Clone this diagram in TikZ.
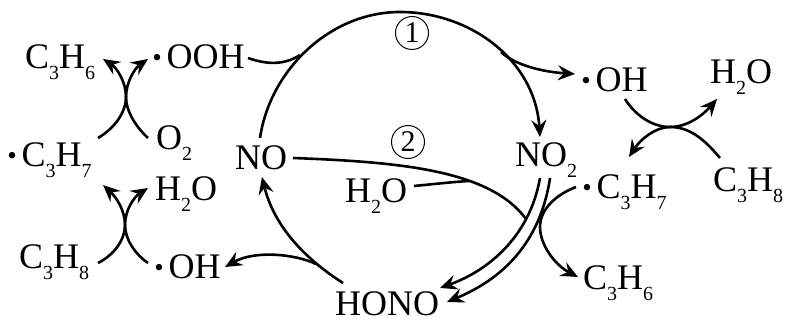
\documentclass[tikz,border=0pt]{standalone}
\usepackage{fontspec}
\setmainfont{Liberation Serif}
\usetikzlibrary{arrows.meta}
\newcommand\sbs[1]{\raisebox{-11pt}{\fontsize{20}{20}\selectfont #1}}
\newcommand\rad{\kern-4.75pt\raisebox{-7pt}{\fontsize{54}{54}\selectfont ·}\kern0.25pt}
\tikzset{
 chem/.style={anchor=base west,inner sep=0pt,font=\fontsize{36}{40}\selectfont},
 num/.style={circle,draw,line width=1pt,minimum size=33pt,inner sep=0pt,font=\fontsize{30}{32}\selectfont},
 link/.style={line width=2.6pt,line cap=butt},
 rx/.style={link,-{Stealth[length=17pt,width=15pt,inset=6pt]}}
}
\begin{document}
\begin{tikzpicture}[x=1pt,y=-1pt]
\useasboundingbox (0,0) rectangle (785,320);
\node[chem] (c3h6L) at (25,69) {C\sbs{3}H\sbs{6}};
\node[chem] (oohL) at (153,69) {\rad OOH};
\node[chem] (c3h7L) at (8,167) {\rad C\sbs{3}H\sbs{7}};
\node[chem] (o2L) at (156,150) {O\sbs{2}};
\node[chem] (h2oL) at (155,201) {H\sbs{2}O};
\node[chem] (c3h8L) at (19,269) {C\sbs{3}H\sbs{8}};
\node[chem] (ohL) at (155,279) {\rad OH};
\node[chem] (no) at (235,170) {NO};
\node[chem] (no2) at (515,167) {NO\sbs{2}};
\node[chem] (h2oM) at (345,203) {H\sbs{2}O};
\node[chem] (hono) at (335,316) {HONO};
\node[chem] (ohR) at (582,92) {\rad OH};
\node[chem] (h2oR) at (710,84) {H\sbs{2}O};
\node[chem] (c3h7R) at (583,199) {\rad C\sbs{3}H\sbs{7}};
\node[chem] (c3h8R) at (713,192) {C\sbs{3}H\sbs{8}};
\node[chem] (c3h6B) at (583,290) {C\sbs{3}H\sbs{6}};
\node[num] (one) at (412,33) {1};
\node[num] (two) at (408,142) {2};
\coordinate (top) at (400,12);
\coordinate (jOOH) at (300,55);
\coordinate (jOH) at (501,52);
\coordinate (jOHb) at (316,264);
\coordinate (jHO) at (469,181);
\coordinate (xTL) at (126,97);
\coordinate (xBL) at (125,225);
\coordinate (xR) at (670,127);
\coordinate (xB) at (540,227);
\coordinate (jDbl) at (526,219);
% main cycle
\draw[rx] ([shift={(25,-32)}]no.base west) .. controls (270,70) and (330,12) .. (top)
  .. controls (470,12) and (535,60) .. ([shift={(25,-30)}]no2.base west);
\draw[link] ([shift={(95,-11)}]oohL.base west) .. controls (265,64) and (283,66) .. (jOOH);
\draw[rx] (jOH) .. controls (516,66) and (545,72) .. ([shift={(-7,-18)}]ohR.base west);
\draw[rx] ([shift={(8,-33)}]hono.base west) .. controls (310,262) and (275,230) .. ([shift={(27,7)}]no.base west);
\draw[rx] (jOHb) .. controls (295,254) and (255,250) .. ([shift={(70,-12)}]ohL.base west);
% route 2
\draw[link] ([shift={(58,-12)}]no.base west) .. controls (400,162) and (490,170) .. (jDbl);
\draw[link] ([shift={(69,-17)}]h2oM.base west) .. controls (435,184) and (452,182) .. (jHO);
\draw[rx] ([shift={(25,11)}]no2.base west) .. controls (530,235) and (490,270) .. ([shift={(105,-28)}]hono.base west);
\draw[rx] ([shift={(35,11)}]no2.base west) .. controls (540,245) and (500,280) .. ([shift={(112,-14)}]hono.base west);
\draw[rx] ([shift={(-7,-12)}]c3h7R.base west) .. controls (555,195) and (540,210) .. (xB)
  .. controls (540,245) and (555,265) .. ([shift={(-5,-13)}]c3h6B.base west);
% upper left crossing
\draw[rx] ([shift={(90,-29)}]c3h7L.base west) .. controls (115,128) and (126,112) .. (xTL)
  .. controls (126,82) and (135,68) .. ([shift={(-5,-10)}]oohL.base west);
\draw[rx] ([shift={(-8,-12)}]o2L.base west) .. controls (137,128) and (126,112) .. (xTL)
  .. controls (126,82) and (117,68) .. ([shift={(78,-10)}]c3h6L.base west);
% lower left crossing
\draw[rx] ([shift={(79,-6)}]c3h8L.base west) .. controls (114,255) and (125,240) .. (xBL)
  .. controls (125,210) and (134,197) .. ([shift={(-7,-13)}]h2oL.base west);
\draw[rx] ([shift={(-7,-16)}]ohL.base west) .. controls (136,255) and (125,240) .. (xBL)
  .. controls (125,210) and (116,197) .. ([shift={(95,18)}]c3h7L.base west);
% right crossing
\draw[rx] ([shift={(43,7)}]ohR.base west) .. controls (635,115) and (652,127) .. (xR)
  .. controls (688,127) and (703,115) .. ([shift={(7,15)}]h2oR.base west);
\draw[rx] ([shift={(7,-34)}]c3h8R.base west) .. controls (705,140) and (690,127) .. (xR)
  .. controls (655,127) and (640,140) .. ([shift={(46,-42)}]c3h7R.base west);
\end{tikzpicture}
\end{document}
